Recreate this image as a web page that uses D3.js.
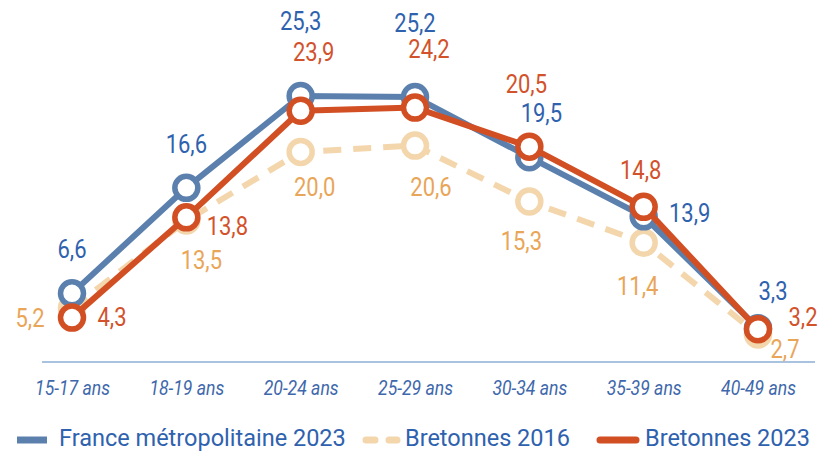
<!DOCTYPE html>
<html><head><meta charset="utf-8">
<script src="https://cdn.jsdelivr.net/npm/d3@7"></script>
<style>body{margin:0;background:#fff}svg{display:block}</style>
</head><body>
<svg id="c" width="818" height="453"></svg>
<script>
const categories = ["15-17 ans","18-19 ans","20-24 ans","25-29 ans","30-34 ans","35-39 ans","40-49 ans"];
const france2023 = [6.6,16.6,25.3,25.2,19.5,13.9,3.3];
const bretonnes2016 = [5.2,13.5,20.0,20.6,15.3,11.4,2.7];
const bretonnes2023 = [4.3,13.8,23.9,24.2,20.5,14.8,3.2];
const seriesNames = ["France métropolitaine 2023","Bretonnes 2016","Bretonnes 2023"];
// label offsets (dx, dy) relative to point
const offFrance = [[0,-44],[0,-43],[0,-74],[0,-74],[12,-44],[46,-3],[15,-37]];
const off2016 = [[-42,10],[15,40],[14,36],[16,42],[-8,40],[-6,44],[27,15]];
const off2023 = [[40,0],[41,9],[13,-58],[14,-58],[-3,-62],[-3,-36],[45,-12]];

const svg = d3.select("#c");
const font = "Roboto, 'Liberation Sans', sans-serif";
const x = d3.scalePoint().domain(categories).range([72,758]);
const y = d3.scaleLinear().domain([0,25.3]).range([363,96]);

const C = {blue:"#5b80ad", blueT:"#2f62ae", red:"#d24f24", redT:"#d2522b", org:"#f4d6ac", orgT:"#e9a558", axis:"#a9c2df", axT:"#3e68ab"};

// axis line
svg.append("line").attr("x1",42).attr("x2",815).attr("y1",362).attr("y2",362)
  .attr("stroke",C.axis).attr("stroke-width",2);
const xAxis = d3.axisBottom(x).tickSize(0).tickPadding(0);
const gx = svg.append("g").attr("transform","translate(0,395)").call(xAxis);
gx.select(".domain").remove();
gx.selectAll(".tick text").attr("fill",C.axT).attr("font-family",font).attr("font-style","italic")
  .attr("font-size",20).attr("font-weight",400).attr("dy",0).attr("y",0).attr("transform","scale(0.88,1)");

const line = d3.line().x((d,i)=>x(categories[i])).y(d=>y(d));

function drawSeries(vals, color, dash, textColor, offs){
  const g = svg.append("g");
  g.append("path").datum(vals).attr("d",line).attr("fill","none")
    .attr("stroke",color).attr("stroke-width",6).attr("stroke-dasharray",dash||null)
    .attr("stroke-linejoin","round");
  g.selectAll("circle").data(vals).join("circle")
    .attr("cx",(d,i)=>x(categories[i])).attr("cy",d=>y(d)).attr("r",11.5)
    .attr("fill","#fff").attr("stroke",color).attr("stroke-width",5.5);
  return {g, vals, textColor, offs};
}
function drawLabels(s){
  s.g.selectAll("text.lbl").data(s.vals).join("text").attr("class","lbl")
    .attr("transform",(d,i)=>`translate(${x(categories[i])+s.offs[i][0]},${y(d)+s.offs[i][1]}) scale(0.88,1)`)
    .attr("text-anchor","middle").attr("dominant-baseline","central")
    .attr("font-family",font).attr("font-size",25).attr("font-weight",400)
    .attr("fill",s.textColor).text(d=>d3.format(".1f")(d).replace(".",","));
}
const s16 = drawSeries(bretonnes2016, C.org, "18,12", C.orgT, off2016);
const sFr = drawSeries(france2023, C.blue, null, C.blueT, offFrance);
const s23 = drawSeries(bretonnes2023, C.red, null, C.redT, off2023);
[s16,sFr,s23].forEach(drawLabels);

// legend
const lg = svg.append("g").attr("font-family",font).attr("font-size",23.5).attr("fill",C.blueT);
lg.append("line").attr("x1",17).attr("x2",47).attr("y1",440).attr("y2",440).attr("stroke",C.blue).attr("stroke-width",7);
lg.append("text").attr("x",59).attr("y",446).text(seriesNames[0]);
lg.append("line").attr("x1",366).attr("x2",397).attr("y1",440).attr("y2",440).attr("stroke",C.org).attr("stroke-width",7).attr("stroke-dasharray","9,14").attr("stroke-linecap","round");
lg.append("text").attr("x",405).attr("y",446).text(seriesNames[1]);
lg.append("line").attr("x1",600).attr("x2",636).attr("y1",440).attr("y2",440).attr("stroke",C.red).attr("stroke-width",7).attr("stroke-linecap","round");
lg.append("text").attr("x",645).attr("y",446).text(seriesNames[2]);
</script>
</body></html>
